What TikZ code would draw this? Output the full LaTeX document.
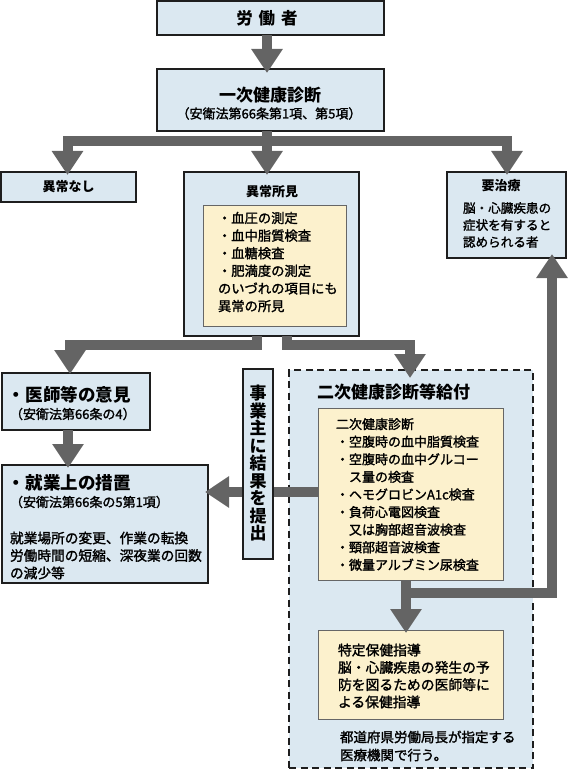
\documentclass[tikz,border=0pt]{standalone}
\usepackage{fontspec}
\setmainfont{Noto Sans CJK JP}
\newfontfamily\bodyf{Noto Sans CJK JP}[FakeBold=1.6]
\usetikzlibrary{arrows.meta,calc}
\definecolor{boxblue}{RGB}{219,232,241}
\definecolor{boxyel}{RGB}{252,241,205}
\definecolor{pipegray}{RGB}{100,100,100}
\definecolor{edge}{RGB}{30,30,30}
\begin{document}
\begin{tikzpicture}[x=1pt,y=-1pt,
 bluebox/.style={draw=edge, line width=1.3pt, fill=boxblue, inner sep=0pt, outer sep=0pt},
 yelbox/.style={draw=black!60, line width=1pt, fill=boxyel, inner sep=0pt, outer sep=0pt},
 dashbox/.style={draw=edge, line width=1.4pt, dash pattern=on 7pt off 4.5pt, fill=boxblue, inner sep=0pt, outer sep=0pt},
 pipe/.style={draw=pipegray, line width=10pt},
 arr/.style={pipe, -{Triangle[width=30pt,length=24pt]}},
 txt/.style={inner sep=0pt, outer sep=0pt, align=left, anchor=west},
 ttl/.style={inner sep=0pt, outer sep=0pt, font=\bfseries\fontsize{13}{15}\selectfont},
]
\useasboundingbox (0,0) rectangle (567,770);
% boxes
\node[bluebox, minimum width=227pt, minimum height=34pt] (worker) at (270.5,18) {};
\node[bluebox, minimum width=227pt, minimum height=62pt] (first) at (270.5,100) {};
\node[bluebox, minimum width=135pt, minimum height=30pt] (none) at (68.5,187) {};
\node[bluebox, minimum width=175pt, minimum height=164pt] (abn) at (271.5,254) {};
\node[yelbox, minimum width=143pt, minimum height=121pt] (abnY) at (274.5,265.5) {};
\node[bluebox, minimum width=119pt, minimum height=86pt] (treat) at (506.5,215) {};
\node[bluebox, minimum width=148pt, minimum height=57pt] (doctor) at (76,401.5) {};
\node[bluebox, minimum width=206pt, minimum height=118pt] (measure) at (105,524) {};
\node[dashbox, minimum width=244pt, minimum height=398pt] (second) at (411,569) {};
\node[yelbox, minimum width=185pt, minimum height=172pt] (secY1) at (410.5,494) {};
\node[yelbox, minimum width=185pt, minimum height=89pt] (secY2) at (410.5,674.5) {};
% junction coordinates
\coordinate (j1) at (267,141.5);
\coordinate (xL) at (67.5,0);
\coordinate (xR) at (507,0);
\coordinate (xa) at (257,0);
\coordinate (xb) at (287,0);
\coordinate (yb) at (0,344.5);
\coordinate (xd) at (70,0);
\coordinate (xs) at (410,0);
\coordinate (xm) at (68,0);
\coordinate (yr) at (0,492);
\coordinate (j2) at (406,593);
\coordinate (xt) at (552,0);
% pipes
\draw[arr] (worker.south -| j1) -- ($(first.north -| j1)+(0,4)$);
\draw[pipe] (first.south -| j1) -- (j1);
\draw[arr] (j1) -| ($(xL |- none.north)+(0,3)$);
\draw[arr] (j1) -- ($(j1 |- abn.north)+(0,3)$);
\draw[arr] (j1) -| ($(xR |- treat.north)+(0,3)$);
\draw[arr] (xa |- abn.south) -- (xa |- yb) -| ($(xd |- doctor.north)+(0,1)$);
\draw[arr] (xb |- abn.south) -- (xb |- yb) -| ($(xs |- second.north)+(0,8)$);
\draw[arr] (xm |- doctor.south) -- ($(xm |- measure.north)+(0,3)$);
\draw[arr] (secY1.west |- yr) -- ($(measure.east |- yr)+(-3,0)$);
\draw[arr] (secY1.south -| j2) -- ($(j2 |- secY2.north)+(0,3)$);
\draw[arr] (j2) -| ($(xt |- treat.south)+(0,-4)$);
% report box on top of pipe
\node[bluebox, minimum width=30pt, minimum height=190pt] (report) at (258,464) {};
% texts
\node[ttl, font=\bfseries\fontsize{16.5}{18}\selectfont] (tWorker) at (267,18) {労\hspace{6pt}働\hspace{6pt}者};
\node[ttl, font=\bfseries\fontsize{17}{19}\selectfont] (tFirst) at (270,95) {一次健康診断};
\node[ttl, font=\bodyf\fontsize{13}{14}\selectfont] (tFirst2) at (269,113.5) {（安衛法第66条第1項、第5項）};
\node[ttl] (tNone) at (68.5,187) {異常なし};
\node[ttl] (tAbn) at (272,192) {異常所見};
\node[txt, font=\bodyf\fontsize{13.3}{17.6}\selectfont] (tAbnY) at (218,262) {・血圧の測定\\・血中脂質検査\\・血糖検査\\・肥満度の測定\\のいづれの項目にも\\異常の所見};
\node[ttl] (tTreat) at (501,186) {要治療};
\node[txt, font=\bodyf\fontsize{12.6}{17}\selectfont] (tTreat2) at (463,225) {脳・心臓疾患の\\症状を有すると\\認められる者};
\node[txt, font=\bfseries\fontsize{17.5}{19}\selectfont] (tDoc) at (8,395) {・医師等の意見};
\node[txt, font=\bodyf\fontsize{13}{14}\selectfont] (tDoc2) at (10,414) {（安衛法第66条の4）};
\node[txt, font=\bfseries\fontsize{17.5}{19}\selectfont] (tMeas) at (8,483) {・就業上の措置};
\node[txt, font=\bodyf\fontsize{13}{14}\selectfont] (tMeas2) at (10,502) {（安衛法第66条の5第1項）};
\node[txt, font=\bodyf\fontsize{13.7}{17.5}\selectfont] (tMeas3) at (10,555.5) {就業場所の変更、作業の転換\\労働時間の短縮、深夜業の回数\\の減少等};
\node[ttl, align=center, font=\bfseries\fontsize{17}{17.5}\selectfont] (tRep) at (258,463.5) {事\\業\\主\\に\\結\\果\\を\\提\\出};
\node[txt, font=\bfseries\fontsize{17}{19}\selectfont] (tSec) at (317,392) {二次健康診断等給付};
\node[txt, font=\bodyf\fontsize{13}{17.6}\selectfont] (tSecY1) at (336,494.5) {二次健康診断\\・空腹時の血中脂質検査\\・空腹時の血中グルコー\\　ス量の検査\\・ヘモグロビンA1c検査\\・負荷心電図検査\\　又は胸部超音波検査\\・頸部超音波検査\\・微量アルブミン尿検査};
\node[txt, font=\bodyf\fontsize{13.8}{17.3}\selectfont] (tSecY2) at (338,676) {特定保健指導\\脳・心臓疾患の発生の予\\防を図るための医師等に\\よる保健指導};
\node[txt, font=\bodyf\fontsize{13.5}{18}\selectfont] (tSecB) at (340,746) {都道府県労働局長が指定する\\医療機関で行う。};
\end{tikzpicture}
\end{document}
